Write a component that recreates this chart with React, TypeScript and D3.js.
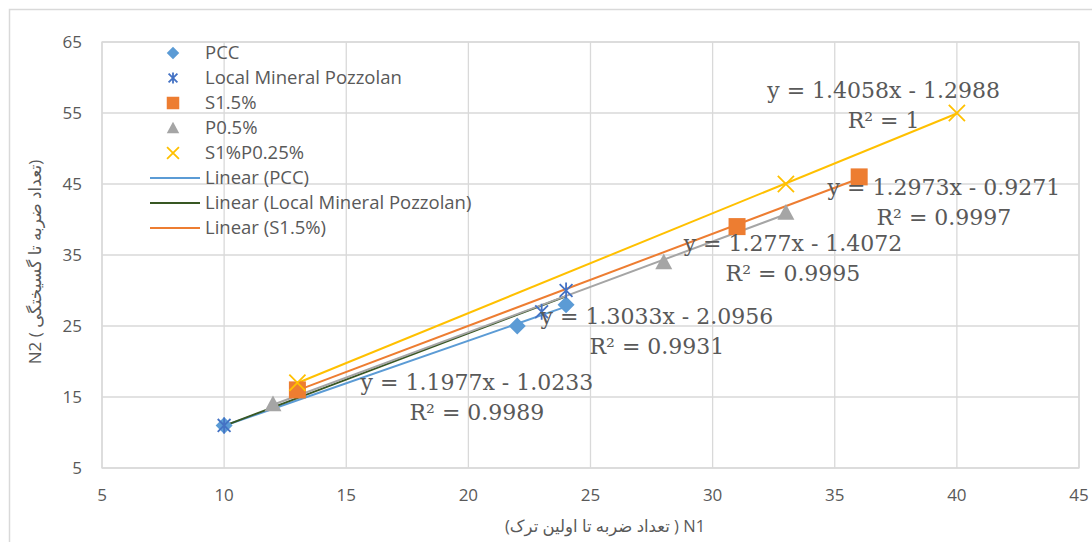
import React from 'react';
import * as d3 from 'd3';

// ---- data ----
const xTicks = [5, 10, 15, 20, 25, 30, 35, 40, 45];
const yTicks = [5, 15, 25, 35, 45, 55, 65];

const seriesNames = ['PCC', 'Local Mineral Pozzolan', 'S1.5%', 'P0.5%', 'S1%P0.25%'];
const pccX = [10, 22, 24];
const pccY = [11, 25, 28];
const lmpX = [10, 23, 24];
const lmpY = [11, 27, 30];
const s15X = [13, 31, 36];
const s15Y = [16, 39, 46];
const p05X = [12, 28, 33];
const p05Y = [14, 34, 41];
const s1p025X = [13, 33, 40];
const s1p025Y = [17, 45, 55];

const slopes = [1.1977, 1.3033, 1.2973, 1.277, 1.4058];
const intercepts = [-1.0233, -2.0956, -0.9271, -1.4072, -1.2988];
const eqTexts = ['y = 1.1977x - 1.0233', 'y = 1.3033x - 2.0956', 'y = 1.2973x - 0.9271', 'y = 1.277x - 1.4072', 'y = 1.4058x - 1.2988'];
const r2Texts = ['R² = 0.9989', 'R² = 0.9931', 'R² = 0.9997', 'R² = 0.9995', 'R² = 1'];
const legendLinear = ['Linear (PCC)', 'Linear (Local Mineral Pozzolan)', 'Linear (S1.5%)'];

const xTitle = 'N1 ( تعداد ضربه تا اولین ترک)';
const yTitle = 'N2 ( تعداد ضربه تا گسیختگی)';

// ---- layout / styles ----
const W = 1092, H = 542;
const plot = { left: 102, right: 1079, top: 42, bottom: 468 };
const markerColors = ['#5B9BD5', '#4472C4', '#ED7D31', '#A5A5A5', '#FFC000'];
const lineColors = ['#5B9BD5', '#385723', '#ED7D31', '#A5A5A5', '#FFC000'];
const markerKinds = ['diamond', 'star', 'square', 'triangle', 'x'];
const labelAnchorX = [20.35, 27.72, 39.47, 33.29, 37.0];
const labelAnchorY = [15.0, 24.3, 42.4, 34.5, 56.1];
const textColor = '#595959';
const grid = '#D9D9D9';
const sansFont = '"Open Sans", "DejaVu Sans", sans-serif';

const allX = [pccX, lmpX, s15X, p05X, s1p025X];
const allY = [pccY, lmpY, s15Y, p05Y, s1p025Y];

function Marker({ kind, x, y, s, color }: { kind: string; x: number; y: number; s: number; color: string }) {
  const h = s / 2;
  if (kind === 'diamond') return <path d={`M${x},${y - h}L${x + h},${y}L${x},${y + h}L${x - h},${y}Z`} fill={color} />;
  if (kind === 'square') return <rect x={x - h} y={y - h} width={s} height={s} fill={color} />;
  if (kind === 'triangle') return <path d={`M${x},${y - h}L${x + h},${y + h * 0.85}L${x - h},${y + h * 0.85}Z`} fill={color} />;
  if (kind === 'x') {
    const k = h * 0.95;
    return <path d={`M${x - k},${y - k}L${x + k},${y + k}M${x - k},${y + k}L${x + k},${y - k}`} stroke={color} strokeWidth={1.8} fill="none" />;
  }
  const k = h * 0.8;
  return <path d={`M${x - k},${y - k}L${x + k},${y + k}M${x - k},${y + k}L${x + k},${y - k}M${x},${y - h}L${x},${y + h}`} stroke={color} strokeWidth={1.8} fill="none" />;
}

export default function App() {
  const xs = d3.scaleLinear().domain([5, 45]).range([plot.left, plot.right]);
  const ys = d3.scaleLinear().domain([5, 65]).range([plot.bottom, plot.top]);

  const line = d3.line<[number, number]>().x(d => xs(d[0])).y(d => ys(d[1]));

  return (
    <svg width={W} height={H} style={{ position: 'absolute', left: 0, top: 0, background: '#fff' }}>
      <rect x={0} y={0} width={W} height={H} fill="#fff" />
      <rect x={9.5} y={9.5} width={W + 20} height={H + 20} fill="none" stroke={grid} strokeWidth={1.5} />
      {xTicks.map(t => (
        <line key={'gx' + t} x1={xs(t)} x2={xs(t)} y1={plot.top} y2={plot.bottom} stroke={grid} strokeWidth={1.3} />
      ))}
      {yTicks.map(t => (
        <line key={'gy' + t} x1={plot.left} x2={plot.right} y1={ys(t)} y2={ys(t)} stroke={grid} strokeWidth={1.3} />
      ))}
      <rect x={plot.left} y={plot.top} width={plot.right - plot.left} height={plot.bottom - plot.top} fill="none" stroke={grid} strokeWidth={1.3} />
      {yTicks.map(t => (
        <text key={'ty' + t} x={82} y={ys(t)} dy="0.35em" textAnchor="end" fontFamily={sansFont} fontSize={17} fill={textColor}>{t}</text>
      ))}
      {xTicks.map(t => (
        <text key={'tx' + t} x={xs(t)} y={495} dy="0.35em" textAnchor="middle" fontFamily={sansFont} fontSize={17} fill={textColor}>{t}</text>
      ))}
      <text x={605} y={526} dy="0.35em" textAnchor="middle" fontFamily={sansFont} fontSize={16.5} fill={textColor} style={{ direction: 'rtl', unicodeBidi: 'embed' }}>{xTitle}</text>
      <text transform={`translate(35,262) rotate(-90)`} dy="0.35em" textAnchor="middle" fontFamily={sansFont} fontSize={17} fill={textColor}>{yTitle}</text>
      {allX.map((xv, i) => {
        const x0 = d3.min(xv)!, x1 = d3.max(xv)!;
        const pts: [number, number][] = [[x0, slopes[i] * x0 + intercepts[i]], [x1, slopes[i] * x1 + intercepts[i]]];
        return <path key={'tl' + i} d={line(pts)!} stroke={lineColors[i]} strokeWidth={2} fill="none" />;
      })}
      {allX.map((xv, i) =>
        xv.map((xx, j) => (
          <Marker key={'m' + i + '-' + j} kind={markerKinds[i]} x={xs(xx)} y={ys(allY[i][j])} s={i === 1 ? 16 : 17} color={markerColors[i]} />
        ))
      )}
      {eqTexts.map((e, i) => (
        <g key={'eq' + i} fontFamily='"DejaVu Serif", serif' fontSize={22} fill={textColor} textAnchor="middle">
          <text x={xs(labelAnchorX[i])} y={ys(labelAnchorY[i]) - 15} dy="0.35em">{e}</text>
          <text x={xs(labelAnchorX[i])} y={ys(labelAnchorY[i]) + 15} dy="0.35em">{r2Texts[i]}</text>
        </g>
      ))}
      {seriesNames.map((n, i) => (
        <g key={'lg' + i}>
          <Marker kind={markerKinds[i]} x={173} y={53 + 25 * i} s={i === 1 ? 11 : 12.5} color={markerColors[i]} />
          <text x={205} y={53 + 25 * i} dy="0.35em" fontFamily={sansFont} fontSize={18.5} fill={textColor}>{n}</text>
        </g>
      ))}
      {legendLinear.map((n, i) => (
        <g key={'ll' + i}>
          <line x1={150} x2={200} y1={178 + 25 * i} y2={178 + 25 * i} stroke={lineColors[i]} strokeWidth={2} />
          <text x={205} y={178 + 25 * i} dy="0.35em" fontFamily={sansFont} fontSize={18.5} fill={textColor}>{n}</text>
        </g>
      ))}
    </svg>
  );
}
